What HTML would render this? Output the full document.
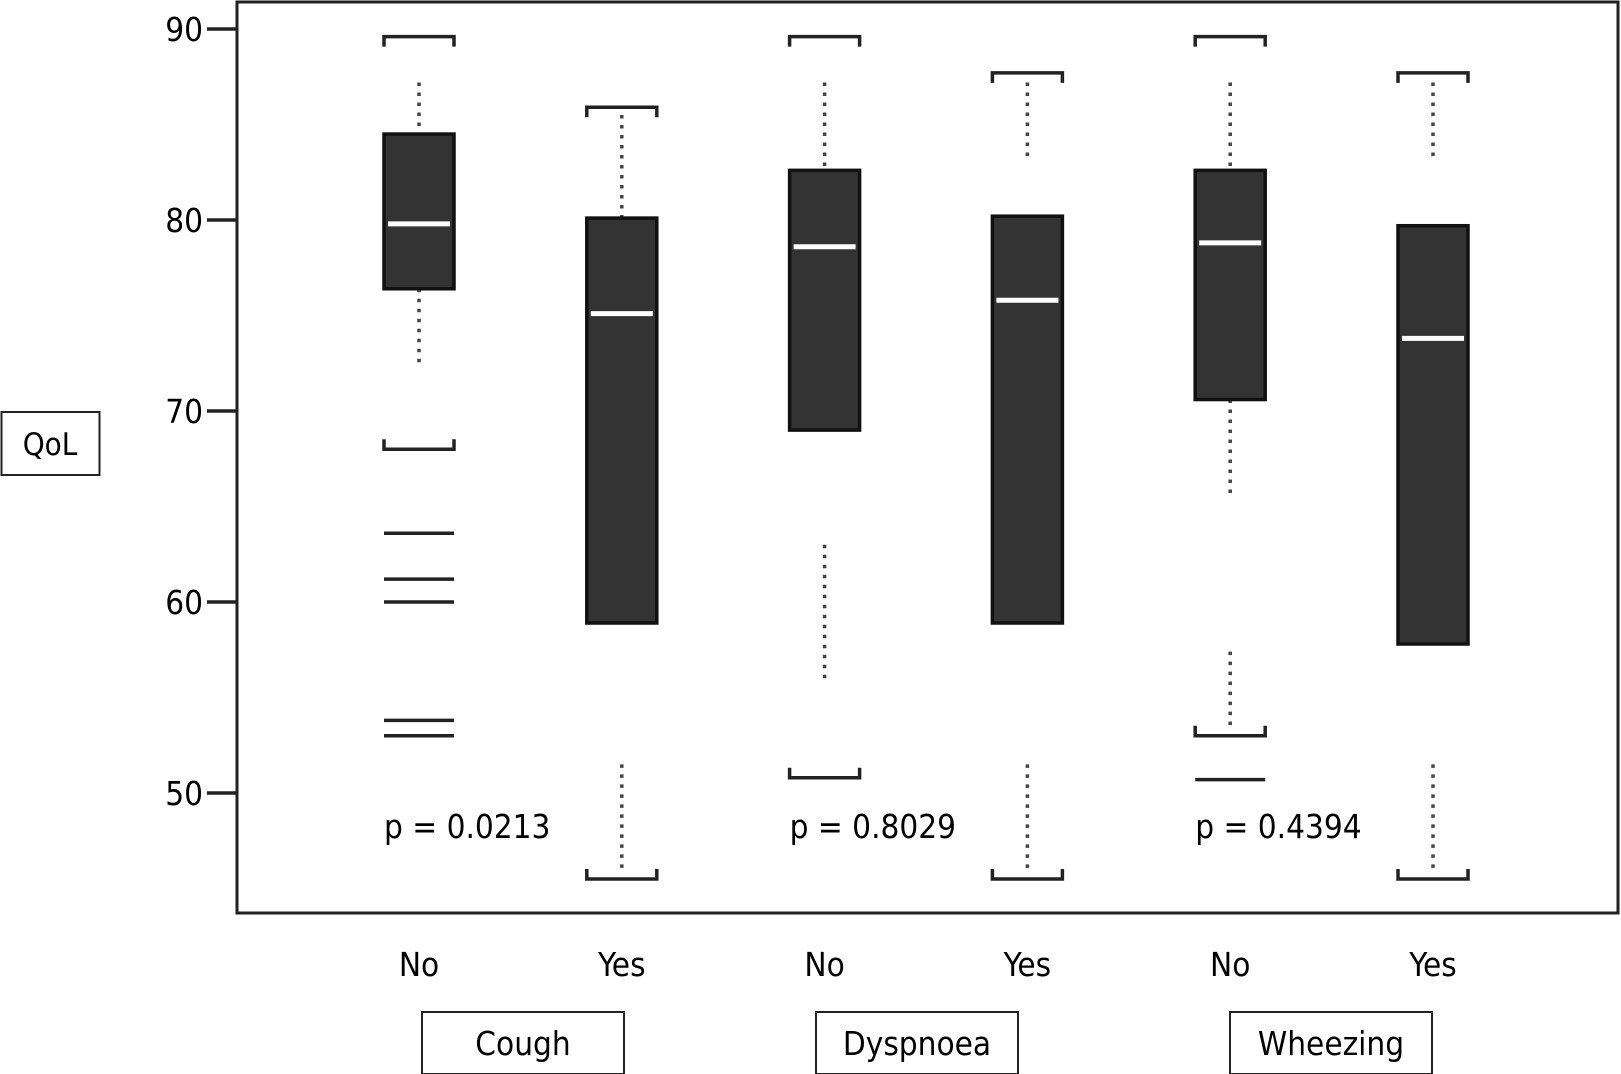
<!DOCTYPE html>
<html><head><meta charset="utf-8">
<style>
html,body{margin:0;padding:0;background:#fff;}
svg{display:block;font-family:"DejaVu Sans Condensed","Liberation Sans Narrow","Liberation Sans",sans-serif;}
</style></head>
<body>
<svg id="chart" width="1621" height="1074" viewBox="0 0 1621 1074" xmlns="http://www.w3.org/2000/svg">
<rect x="237" y="2" width="1381" height="911" fill="none" stroke="#222" stroke-width="3"/>
<g id="yaxis"></g>
<g id="boxes"></g>
<g id="labels"></g>
<rect x="1.5" y="412" width="98" height="63" fill="none" stroke="#222" stroke-width="2"/>
<text x="50" y="455" font-size="31" text-anchor="middle">QoL</text>
</svg>
<script>
const yTicks = [90, 80, 70, 60, 50];
const categories = ["No", "Yes", "No", "Yes", "No", "Yes"];
const groups = ["Cough", "Dyspnoea", "Wheezing"];
const pValues = ["p = 0.0213", "p = 0.8029", "p = 0.4394"];
const topCap = [89.6, 85.9, 89.6, 87.7, 89.6, 87.7];
const topDotted = [[87.2, 84.5], [85.5, 80.1], [87.2, 82.6], [87.2, 83.3], [87.2, 82.6], [87.2, 83.3]];
const q3 = [84.5, 80.1, 82.6, 80.2, 82.6, 79.7];
const median = [79.8, 75.1, 78.6, 75.8, 78.8, 73.8];
const q1 = [76.4, 58.9, 69.0, 58.9, 70.6, 57.8];
const lowDotted = [[[76.4, 72.4]], [[51.5, 45.8]], [[63.0, 55.8]], [[51.5, 45.8]], [[70.6, 65.6], [57.4, 53.5]], [[51.5, 45.8]]];
const bottomCap = [68.0, 45.5, 50.8, 45.5, 53.0, 45.5];
const extraLines = [[63.6, 61.2, 60.0, 53.8, 53.0], [], [], [], [50.7], []];

const NS = "http://www.w3.org/2000/svg";
function y(v){ return 29 + (90 - v) * 19.1; }
function x(i){ return 419 + i * 202.8; }
function gx(j){ return j === 0 ? 523 : (j === 1 ? 917 : 1331); }
const HW = 35;
function mk(tag, attrs, parent){
  const e = document.createElementNS(NS, tag);
  for (const k in attrs) e.setAttribute(k, attrs[k]);
  parent.appendChild(e); return e;
}
const yaxis = document.getElementById('yaxis');
yTicks.forEach(t => {
  const l = mk('line', {x1:207, x2:237, y1:y(t), y2:y(t), stroke:'#222', 'stroke-width':3.5}, yaxis);
  
  
  const tx = mk('text', {x:203, y:y(t)+12, 'font-size':33, 'text-anchor':'end'}, yaxis);
  tx.textContent = t;
  
  
});
const boxes = document.getElementById('boxes');
categories.forEach((c, i) => {
  const cx = x(i);
  const g = mk('g', {}, boxes);
  
  
  const tc = y(topCap[i]);
  mk('path', {d:`M${cx-HW} ${tc+10} V${tc} H${cx+HW} V${tc+10}`, fill:'none', stroke:'#222', 'stroke-width':3.5}, g);
  mk('line', {x1:cx, x2:cx, y1:y(topDotted[i][0]), y2:y(topDotted[i][1]), stroke:'#444', 'stroke-width':3.5, 'stroke-dasharray':'3.5 6.5'}, g);
  lowDotted[i].forEach(d => {
    mk('line', {x1:cx, x2:cx, y1:y(d[0]), y2:y(d[1]), stroke:'#444', 'stroke-width':3.5, 'stroke-dasharray':'3.5 6.5'}, g);
  });
  mk('rect', {x:cx-HW, y:y(q3[i]), width:HW*2, height:y(q1[i])-y(q3[i]), fill:'#333', stroke:'#111', 'stroke-width':3.5}, g);
  mk('line', {x1:cx-HW+4, x2:cx+HW-4, y1:y(median[i]), y2:y(median[i]), stroke:'#fff', 'stroke-width':5}, g);
  const bc = y(bottomCap[i]);
  mk('path', {d:`M${cx-HW} ${bc-10} V${bc} H${cx+HW} V${bc-10}`, fill:'none', stroke:'#222', 'stroke-width':3.5}, g);
  extraLines[i].forEach(v => {
    mk('line', {x1:cx-HW, x2:cx+HW, y1:y(v), y2:y(v), stroke:'#222', 'stroke-width':3.5}, g);
  });
  const lab = mk('text', {x:cx, y:976, 'font-size':33, 'text-anchor':'middle'}, document.getElementById('labels'));
  lab.textContent = c;
  
  
});
const labels = document.getElementById('labels');
groups.forEach((gname, j) => {
  const cx = gx(j);
  const r = mk('rect', {x:cx-101, y:1012, width:202, height:62, fill:'none', stroke:'#222', 'stroke-width':2}, labels);
  
  
  const t = mk('text', {x:cx, y:1055, 'font-size':33, 'text-anchor':'middle'}, labels);
  t.textContent = gname;
  
  
  const p = mk('text', {x:x(2*j)-35, y:838, 'font-size':33}, labels);
  p.textContent = pValues[j];
  
  
});
</script>
</body></html>
